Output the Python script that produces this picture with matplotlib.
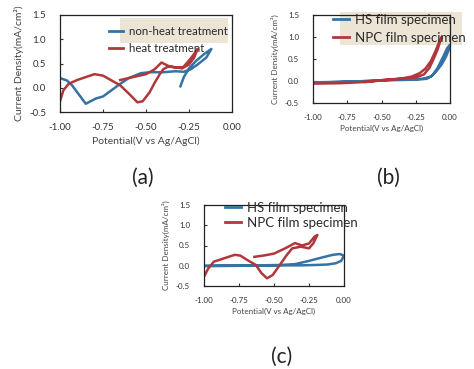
import matplotlib
matplotlib.use("Agg")
import matplotlib.pyplot as plt
import matplotlib.patches as mpatches

plt.rcParams['font.family'] = ['Lato', 'DejaVu Sans']

# Panel (a) data
a_blue_x = [-0.30, -0.28, -0.25, -0.21, -0.16, -0.12, -0.15, -0.20, -0.24, -0.28, -0.33, -0.40, -0.48, -0.53,
            -0.60, -0.65, -0.70, -0.75, -0.79, -0.85, -0.93, -0.96, -1.00]
a_blue_y = [0.03, 0.22, 0.40, 0.55, 0.70, 0.80, 0.62, 0.48, 0.38, 0.33, 0.34, 0.32, 0.32, 0.30,
            0.20, 0.08, -0.05, -0.18, -0.22, -0.33, 0.05, 0.15, 0.20]
a_red_x = [-1.00, -0.98, -0.95, -0.90, -0.85, -0.80, -0.75, -0.70, -0.65, -0.60, -0.55, -0.52, -0.48, -0.45,
           -0.42, -0.40, -0.37, -0.33, -0.29, -0.26, -0.23, -0.20, -0.22, -0.25, -0.28, -0.33, -0.37, -0.41,
           -0.45, -0.50, -0.55, -0.60, -0.65]
a_red_y = [-0.28, -0.05, 0.08, 0.16, 0.22, 0.28, 0.25, 0.15, 0.05, -0.12, -0.30, -0.28, -0.10, 0.10,
           0.28, 0.38, 0.44, 0.42, 0.40, 0.52, 0.65, 0.80, 0.62, 0.48, 0.42, 0.42, 0.45, 0.52,
           0.38, 0.28, 0.24, 0.20, 0.16]

# Panel (b) data
b_blue_x = [-1.00, -0.80, -0.60, -0.40, -0.25, -0.17, -0.13, -0.09, -0.05, -0.02, 0.00,
            -0.01, -0.03, -0.06, -0.10, -0.14, -0.20, -0.35, -0.60, -1.00]
b_blue_y = [-0.03, -0.02, 0.00, 0.02, 0.03, 0.05, 0.12, 0.30, 0.55, 0.75, 0.82,
            0.70, 0.55, 0.38, 0.22, 0.10, 0.05, 0.04, 0.00, -0.04]
b_red_x = [-1.00, -0.80, -0.60, -0.45, -0.35, -0.28, -0.22, -0.18, -0.14, -0.11, -0.08, -0.06,
           -0.07, -0.09, -0.12, -0.15, -0.19, -0.25, -0.35, -0.50, -0.62]
b_red_y = [-0.06, -0.05, -0.02, 0.03, 0.06, 0.10, 0.18, 0.28, 0.45, 0.65, 0.88, 1.00,
           0.92, 0.72, 0.50, 0.30, 0.15, 0.08, 0.05, 0.02, -0.02]

# Panel (c) data
c_blue_x = [-1.00, -0.80, -0.60, -0.45, -0.35, -0.25, -0.15, -0.08, -0.03, 0.00,
            -0.02, -0.06, -0.12, -0.20, -0.30, -0.45, -0.70, -1.00]
c_blue_y = [0.00, 0.01, 0.01, 0.02, 0.04, 0.12, 0.21, 0.27, 0.29, 0.25,
            0.12, 0.06, 0.03, 0.02, 0.01, 0.01, 0.00, -0.01]
c_red_x = [-1.00, -0.97, -0.93, -0.86, -0.78, -0.74, -0.69, -0.63, -0.59, -0.55, -0.51, -0.46, -0.41,
           -0.37, -0.31, -0.25, -0.22, -0.19, -0.21, -0.25, -0.30, -0.35, -0.42, -0.50, -0.56, -0.64]
c_red_y = [-0.27, -0.07, 0.10, 0.18, 0.27, 0.25, 0.14, 0.02, -0.18, -0.31, -0.23, 0.01, 0.26,
           0.43, 0.47, 0.43, 0.55, 0.76, 0.72, 0.55, 0.50, 0.56, 0.43, 0.30, 0.26, 0.22]

x_ticks = [-1.00, -0.75, -0.50, -0.25, 0.00]
y_ticks = [-0.5, 0.0, 0.5, 1.0, 1.5]
x_label = "Potential(V vs Ag/AgCl)"
y_label = "Current Density(mA/cm²)"

BLUE = "#3573a5"
RED = "#b0383c"
W, H = 474, 369


def px_box(left, top, right, bottom):
    return [left / W, 1 - bottom / H, (right - left) / W, (bottom - top) / H]


def setup_axes(ax, tick_fs, label_fs):
    ax.set_xlim(-1.0, 0.0)
    ax.set_ylim(-0.5, 1.5)
    ax.set_xticks(x_ticks)
    ax.set_xticklabels([f"{t:.2f}" for t in x_ticks])
    ax.set_yticks(y_ticks)
    ax.set_yticklabels([f"{t:.1f}" for t in y_ticks])
    ax.tick_params(direction='in', length=2, width=0.8, labelsize=tick_fs, pad=8, colors='#333333')
    ax.tick_params(axis='y', pad=10)
    for s in ax.spines.values():
        s.set_linewidth(0.9)
        s.set_color('#222222')
    ax.set_xlabel(x_label, fontsize=label_fs, labelpad=3, color='#444444')
    ax.set_ylabel(y_label, fontsize=label_fs, labelpad=4, color='#444444')


def add_legend(ax, labels, anchor, fs, spacing):
    handles = [plt.Line2D([], [], color=BLUE, lw=2), plt.Line2D([], [], color=RED, lw=2)]
    leg = ax.legend(handles, labels, loc='upper left', bbox_to_anchor=(anchor[0] / W, 1 - anchor[1] / H),
                    bbox_transform=ax.figure.transFigure, frameon=False, fontsize=fs,
                    handlelength=1.2, handletextpad=0.5, labelspacing=spacing, borderpad=0, borderaxespad=0)
    for t in leg.get_texts():
        t.set_color('#2a2a2a')


def add_shade(ax, left, top, right, bottom):
    rect = mpatches.Rectangle((left / W, 1 - bottom / H), (right - left) / W, (bottom - top) / H,
                              transform=ax.figure.transFigure, facecolor='#ece5d6', edgecolor='none',
                              zorder=0.5, clip_on=False)
    ax.add_patch(rect)


fig = plt.figure(figsize=(4.74, 3.69), dpi=100)

# (a)
ax_a = fig.add_axes(px_box(60, 15, 232, 112))
ax_a.plot(a_blue_x, a_blue_y, color=BLUE, lw=1.8)
ax_a.plot(a_red_x, a_red_y, color=RED, lw=1.8)
setup_axes(ax_a, 7, 7.5)
add_shade(ax_a, 120, 18, 228, 43)
add_legend(ax_a, ["non-heat treatment", "heat treatment"], (109, 26), 8.3, 0.55)

# (b)
ax_b = fig.add_axes(px_box(313, 15, 450, 103))
ax_b.plot(b_blue_x, b_blue_y, color=BLUE, lw=1.8)
ax_b.plot(b_red_x, b_red_y, color=RED, lw=1.8)
setup_axes(ax_b, 5.8, 5.8)
add_shade(ax_b, 340, 12, 462, 45)
add_legend(ax_b, ["HS film specimen", "NPC film specimen"], (333, 14), 9.5, 0.45)

# (c)
ax_c = fig.add_axes(px_box(204, 205, 344, 286))
ax_c.plot(c_blue_x, c_blue_y, color=BLUE, lw=1.8)
ax_c.plot(c_red_x, c_red_y, color=RED, lw=1.8)
setup_axes(ax_c, 5.8, 5.8)
add_legend(ax_c, ["HS film specimen", "NPC film specimen"], (225, 202), 9.5, 0.2)

# panel labels
fig.text(143 / W, 1 - 178 / H, "(a)", fontsize=15, ha='center', va='center', color='#222222')
fig.text(388 / W, 1 - 178 / H, "(b)", fontsize=15, ha='center', va='center', color='#222222')
fig.text(282 / W, 1 - 357 / H, "(c)", fontsize=15, ha='center', va='center', color='#222222')

fig.savefig("out.png", dpi=100)
